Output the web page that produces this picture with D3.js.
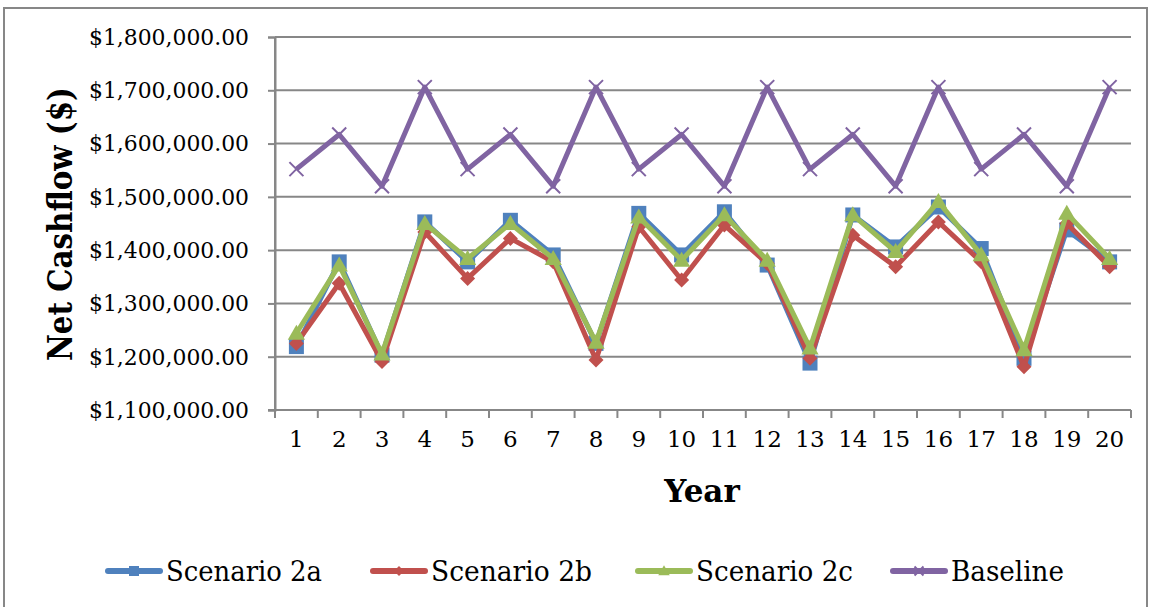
<!DOCTYPE html>
<html>
<head>
<meta charset="utf-8">
<script src="https://cdn.jsdelivr.net/npm/d3@7"></script>
<style>
  body { margin: 0; background: #fff; }
  text { font-family: "DejaVu Serif", Georgia, serif; fill: #000; }
</style>
</head>
<body>
<script>
var svgWidth = 1151;
var svgHeight = 607;

// chart data
var years = [1, 2, 3, 4, 5, 6, 7, 8, 9, 10, 11, 12, 13, 14, 15, 16, 17, 18, 19, 20];
var scenario2a = [1219000, 1378000, 1203000, 1453000, 1378000, 1456000, 1391000, 1225000, 1469000, 1391000,
                  1472000, 1372000, 1188000, 1466000, 1406000, 1481000, 1403000, 1197000, 1438000, 1378000];
var scenario2b = [1225000, 1338000, 1191000, 1434000, 1347000, 1422000, 1378000, 1194000, 1444000, 1344000,
                  1447000, 1375000, 1197000, 1428000, 1369000, 1453000, 1378000, 1181000, 1450000, 1369000];
var scenario2c = [1244000, 1372000, 1205000, 1450000, 1384000, 1450000, 1384000, 1227000, 1462000, 1381000,
                  1466000, 1381000, 1216000, 1466000, 1397000, 1491000, 1391000, 1213000, 1469000, 1384000];
var baseline = [1552000, 1617000, 1520000, 1706000, 1552000, 1617000, 1520000, 1706000, 1552000, 1617000,
                1520000, 1706000, 1552000, 1617000, 1520000, 1706000, 1552000, 1617000, 1520000, 1706000];
var seriesNames = ["Scenario 2a", "Scenario 2b", "Scenario 2c", "Baseline"];
var yTicks = [1100000, 1200000, 1300000, 1400000, 1500000, 1600000, 1700000, 1800000];

var colors = ["#4F81BD", "#C0504D", "#9BBB59", "#8064A2"];
var markers = ["square", "diamond", "triangle", "cross"];
var allSeries = [scenario2a, scenario2b, scenario2c, baseline];

var plot = { left: 275, right: 1131, top: 37, bottom: 410 };
var gridColor = "#878787";

var svg = d3.select("body")
  .append("svg")
  .attr("width", svgWidth)
  .attr("height", svgHeight);

// outer chart border
svg.append("rect")
  .attr("x", 4).attr("y", 8)
  .attr("width", 1143).attr("height", 610)
  .attr("fill", "none")
  .attr("stroke", gridColor)
  .attr("stroke-width", 2);

var x = d3.scaleBand()
  .domain(years)
  .range([plot.left, plot.right])
  .padding(0);

var y = d3.scaleLinear()
  .domain([1100000, 1800000])
  .range([plot.bottom, plot.top]);

// horizontal gridlines
svg.append("g")
  .selectAll("line")
  .data(yTicks)
  .enter()
  .append("line")
  .attr("x1", plot.left)
  .attr("x2", plot.right)
  .attr("y1", d => y(d))
  .attr("y2", d => y(d))
  .attr("stroke", gridColor)
  .attr("stroke-width", 2);

// y axis
var fmt = d3.format(",.2f");
var leftAxis = d3.axisLeft(y)
  .tickValues(yTicks)
  .tickSize(7)
  .tickPadding(19)
  .tickFormat(d => "$" + fmt(d));

var yAxis = svg.append("g")
  .attr("transform", `translate(${plot.left},0)`)
  .call(leftAxis);
yAxis.select(".domain").attr("stroke", gridColor).attr("stroke-width", 2);
yAxis.selectAll(".tick line").attr("stroke", gridColor).attr("stroke-width", 2);
yAxis.selectAll(".tick text")
  .attr("font-family", "DejaVu Serif")
  .attr("font-size", 23)
  .attr("textLength", 160)
  .attr("lengthAdjust", "spacingAndGlyphs")
  .attr("fill", "#000");

// x axis
var bottomAxis = d3.axisBottom(x)
  .tickSize(0)
  .tickPadding(21);

var xAxis = svg.append("g")
  .attr("transform", `translate(0,${plot.bottom})`)
  .call(bottomAxis);
xAxis.select(".domain").remove();
xAxis.selectAll(".tick text")
  .attr("font-family", "DejaVu Serif")
  .attr("font-size", 23)
  .attr("fill", "#000");

svg.append("line")
  .attr("x1", plot.left - 7).attr("x2", plot.right)
  .attr("y1", plot.bottom).attr("y2", plot.bottom)
  .attr("stroke", gridColor).attr("stroke-width", 2);

// category boundary ticks
var bounds = years.map(d => x(d)).concat([x(years[years.length - 1]) + x.bandwidth()]);
svg.append("g")
  .selectAll("line")
  .data(bounds)
  .enter()
  .append("line")
  .attr("x1", d => d).attr("x2", d => d)
  .attr("y1", plot.bottom).attr("y2", plot.bottom + 8)
  .attr("stroke", gridColor)
  .attr("stroke-width", 2);

// vertical axis line on top
svg.append("line")
  .attr("x1", plot.left).attr("x2", plot.left)
  .attr("y1", plot.top).attr("y2", plot.bottom + 8)
  .attr("stroke", gridColor).attr("stroke-width", 2);

// marker drawing helper
function drawMarker(g, type, color, size) {
  var s = size / 2;
  if (type == "square") {
    g.append("rect")
      .attr("x", -s).attr("y", -s)
      .attr("width", size).attr("height", size)
      .attr("fill", color);
  } else if (type == "diamond") {
    g.append("path")
      .attr("d", `M0,${-s}L${s},0L0,${s}L${-s},0Z`)
      .attr("fill", color);
  } else if (type == "triangle") {
    g.append("path")
      .attr("d", `M0,${-s * 1.15}L${s * 1.15},${s * 0.85}L${-s * 1.15},${s * 0.85}Z`)
      .attr("fill", color);
  } else {
    g.append("path")
      .attr("d", `M${-s},${-s}L${s},${s}M${-s},${s}L${s},${-s}`)
      .attr("stroke", color)
      .attr("stroke-width", 2)
      .attr("fill", "none");
  }
}

var line = d3.line()
  .x(d => x(d.year) + x.bandwidth() / 2)
  .y(d => y(d.value));

allSeries.forEach(function (values, i) {
  var pts = years.map((yr, j) => ({ year: yr, value: values[j] }));
  var g = svg.append("g").attr("class", "series");
  g.append("path")
    .datum(pts)
    .attr("d", line)
    .attr("fill", "none")
    .attr("stroke", colors[i])
    .attr("stroke-width", 5)
    .attr("stroke-linejoin", "round");
  g.selectAll(".marker")
    .data(pts)
    .enter()
    .append("g")
    .attr("class", "marker")
    .attr("transform", d => `translate(${x(d.year) + x.bandwidth() / 2},${y(d.value)})`)
    .each(function () {
      drawMarker(d3.select(this), markers[i], colors[i], markers[i] == "cross" ? 14 : 15);
    });
});

// axis titles
svg.append("text")
  .attr("x", 702)
  .attr("y", 502)
  .attr("text-anchor", "middle")
  .attr("font-weight", "bold")
  .attr("font-size", 31)
  .text("Year");

svg.append("text")
  .attr("transform", "translate(72,224) rotate(-90)")
  .attr("text-anchor", "middle")
  .attr("font-weight", "bold")
  .attr("font-size", 33)
  .attr("textLength", 274)
  .attr("lengthAdjust", "spacingAndGlyphs")
  .text("Net Cashflow ($)");

// legend
var legendX = [105, 370, 635, 890];
var legendTextW = [156, 161, 157, 113];
var legendY = 571;
var legend = svg.append("g");
seriesNames.forEach(function (name, i) {
  var lg = legend.append("g").attr("transform", `translate(${legendX[i]},${legendY})`);
  lg.append("line")
    .attr("x1", 3).attr("x2", 55)
    .attr("y1", 0).attr("y2", 0)
    .attr("stroke", colors[i])
    .attr("stroke-width", 6)
    .attr("stroke-linecap", "round");
  var m = lg.append("g").attr("transform", "translate(29,0)");
  drawMarker(m, markers[i], colors[i], markers[i] == "cross" ? 9 : 10);
  lg.append("text")
    .attr("x", 61)
    .attr("y", 10)
    .attr("font-size", 27)
    .attr("textLength", legendTextW[i])
    .attr("lengthAdjust", "spacingAndGlyphs")
    .text(name);
});
</script>
</body>
</html>
